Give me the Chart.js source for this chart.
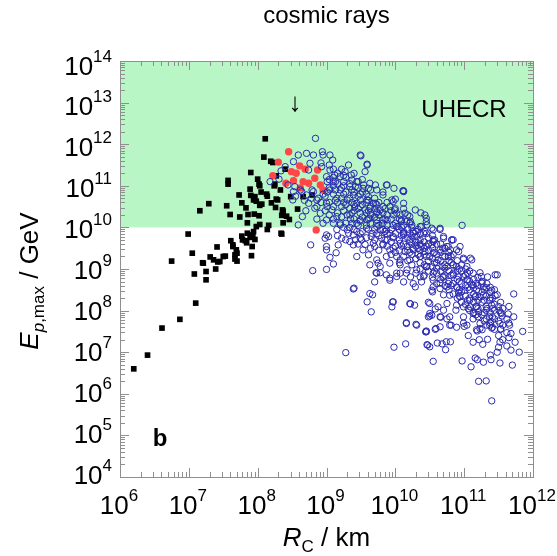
<!DOCTYPE html>
<html lang="en">
<head>
<meta charset="UTF-8">
<title>cosmic rays</title>
<script src="https://cdn.jsdelivr.net/npm/chart.js"></script>
<style>
  html, body { margin: 0; padding: 0; background: #fff; }
  canvas { display: block; }
</style>
</head>
<body>
<canvas id="chart" width="557" height="556"></canvas>
<script>
  // every pair is [log10(R_C / km), log10(E_p,max / GeV)]
  const squares = [
    [6.20,6.60],[6.40,6.93],[6.61,7.58],[6.87,7.79],[7.10,8.18],[7.08,8.88],[7.25,8.94],[7.25,8.74],
    [6.75,9.19],[7.05,9.38],[6.99,9.84],[7.20,9.15],[7.41,9.53],[7.39,9.00],[7.31,9.29],[7.42,9.17],
    [7.53,9.31],[7.61,9.68],[7.64,9.54],[7.67,9.24],[7.70,9.38],[7.91,9.32],[7.78,9.70],[7.93,9.82],
    [8.35,9.84],[7.84,9.63],[8.11,12.13],[8.09,11.69],[8.19,11.59],[7.90,11.32],[8.00,11.16],[7.57,11.13],
    [7.57,11.04],[8.02,11.04],[8.25,11.04],[7.89,10.92],[8.05,10.85],[7.73,10.78],[7.90,10.77],[7.96,10.74],
    [8.14,10.75],[7.29,10.57],[7.16,10.40],[7.77,10.59],[7.98,10.63],[8.03,10.53],[7.55,10.52],[7.83,10.47],
    [8.20,10.59],[8.29,10.66],[8.26,10.48],[7.60,10.31],[7.74,10.25],[7.86,10.31],[7.95,10.32],[8.02,10.28],
    [8.37,10.39],[8.35,10.29],[7.85,10.11],[8.03,10.07],[8.16,10.05],[8.14,9.95],[7.98,10.02],[7.77,9.79],
    [7.85,9.86],[7.94,9.90],[7.82,9.68],[7.89,9.76],[7.96,9.71],[8.34,9.86],[7.64,9.58],[7.69,9.46],
    [7.92,9.54],[7.36,9.22],[7.50,9.30],[7.67,9.34],[7.45,9.18],[7.70,9.19],[7.21,9.14],[8.22,11.56],
    [8.40,11.40],[8.27,11.24],[8.03,11.00],[8.24,11.00],[8.33,10.90],[8.13,10.80],[8.27,10.68],[7.94,10.66],
    [8.06,10.56],[8.48,10.74],[8.66,10.74],[8.79,10.78],[8.58,10.44],[8.36,10.42],[8.42,10.27],[8.46,10.19],
    [8.37,10.11]
  ];

  const redDots = [
    [8.45,11.82],[8.30,11.57],[8.22,11.24],[8.49,11.34],[8.61,11.48],[8.69,11.40],[8.56,11.30],[8.41,11.06],
    [8.52,11.12],[8.62,10.95],[8.66,11.10],[8.74,11.06],[8.83,11.18],[8.87,11.38],[8.91,11.02],[8.95,10.90],
    [8.85,9.94]
  ];

  const openCircles = [
    [8.84,12.14],[8.59,11.74],[8.94,11.82],[9.05,11.74],[8.40,11.46],[8.34,11.36],[8.52,11.58],[8.76,11.54],
    [8.18,11.10],[8.31,11.16],[8.44,11.02],[8.52,10.86],[8.51,10.66],[8.64,10.86],[8.79,10.90],[8.65,10.26],
    [8.59,10.06],[8.77,9.58],[8.74,10.58],[8.86,10.66],[8.86,10.50],[9.03,9.78],[9.00,9.54],[9.17,9.58],
    [9.20,10.06],[9.32,9.86],[9.42,9.70],[9.56,9.59],[8.71,11.78],[8.81,11.74],[8.95,11.74],[9.09,11.62],
    [9.49,11.74],[9.59,11.52],[9.56,11.34],[9.32,11.50],[9.27,11.34],[8.74,11.38],[8.93,11.46],[9.05,11.38],
    [9.00,11.22],[9.12,11.26],[9.20,11.22],[9.10,11.10],[9.25,11.10],[9.37,11.14],[9.46,11.10],[9.34,10.98],
    [9.42,10.98],[9.54,11.02],[9.61,10.94],[9.71,11.02],[9.88,11.02],[9.98,10.94],[10.12,10.86],[10.00,10.68],
    [8.62,10.90],[8.54,10.98],[8.71,10.78],[8.81,10.86],[8.83,10.46],[8.91,10.34],[9.00,10.58],[9.08,10.42],
    [9.15,10.26],[9.22,10.50],[9.30,10.66],[9.34,10.46],[9.44,10.58],[9.49,10.34],[9.59,10.66],[9.63,10.46],
    [9.71,10.58],[9.78,10.42],[9.92,10.50],[10.02,10.34],[9.88,10.18],[9.73,10.18],[9.59,10.18],[9.44,10.10],
    [9.20,10.10],[9.00,10.18],[9.30,9.94],[9.39,9.82],[9.49,9.74],[9.66,9.86],[9.78,9.94],[9.92,9.86],
    [10.04,10.02],[10.12,9.82],[9.88,9.70],[9.68,9.62],[9.00,9.82],[8.98,9.74],[9.22,9.74],[9.34,9.66],
    [9.50,11.72],[10.11,10.88],[10.37,10.35],[10.97,10.05],[10.45,10.22],
    [11.48,8.86],[11.34,8.81],[11.09,9.26],[11.23,8.91],[11.26,8.66],[11.48,8.38],[11.38,8.56],[10.94,9.54],
    [10.82,9.70],[10.80,9.46],[10.92,9.42],[10.99,9.23],[10.84,9.10],[10.72,9.02],[10.55,8.90],[10.36,8.81],
    [10.29,8.57],[10.65,8.66],[10.75,8.57],[10.92,8.81],[11.04,8.74],[11.11,8.62],[11.18,8.50],[11.28,8.38],
    [11.16,8.33],[10.92,8.42],[10.70,8.38],[10.55,8.57],[10.46,9.06],[10.43,9.42],[10.26,9.50],[10.17,9.54],
    [10.12,9.86],[10.26,9.86],[10.36,9.70],[10.55,9.66],[10.70,9.78],[10.84,9.70],[10.55,9.94],[10.65,9.95],
    [10.75,9.54],[10.55,9.38],[10.36,9.30],[10.07,9.22],[10.17,8.98],[10.07,8.90],[10.09,10.18],[10.22,10.14],
    [10.26,9.90],[10.38,10.02],[10.46,10.06],[10.43,9.90],[10.14,10.34],[10.12,10.58],
    [8.80,8.96],[9.00,8.99],[9.00,9.46],[9.05,9.28],[9.10,9.12],[9.14,9.39],[9.39,8.52],[9.59,8.21],
    [9.65,7.97],[9.67,8.38],[9.28,6.99],[9.96,8.21],[9.95,8.09],[9.98,7.12],[10.16,7.71],[10.30,7.67],
    [10.15,7.20],[10.22,8.16],[10.28,8.13],[10.45,7.51],[10.47,7.17],[10.48,8.20],[10.48,7.85],[9.75,9.14],
    [9.78,8.91],[9.72,8.91],[9.92,8.78],[10.02,8.90],[10.38,8.69],[10.22,8.81],
    [10.54,8.45],[10.50,7.87],[10.53,7.89],[10.44,7.49],[10.58,7.55],[10.46,7.18],[10.50,7.13],[10.61,7.22],
    [10.68,7.20],[10.74,7.25],[10.80,7.25],[10.73,7.06],[10.55,6.78],[10.97,6.79],[11.10,6.65],[11.16,6.86],
    [11.19,6.82],[11.28,6.76],[11.39,6.82],[11.38,6.93],[11.52,6.74],[11.70,6.69],[11.48,7.00],[11.50,7.12],
    [11.52,7.24],[11.34,7.31],[11.27,7.19],[11.22,7.30],[11.13,7.24],[11.06,7.40],[11.19,7.51],[11.26,7.54],
    [11.18,7.54],[11.62,7.47],[11.74,7.24],[11.66,7.65],[11.53,7.56],[11.40,7.58],[11.39,7.74],[11.37,7.65],
    [11.23,7.69],[11.13,7.80],[10.99,7.70],[11.00,7.62],[10.89,7.60],[10.81,7.65],[10.75,7.80],[10.66,7.84],
    [10.58,8.04],[10.70,8.01],[10.88,8.01],[10.99,8.09],[11.09,8.09],[11.21,7.97],[11.32,8.01],[11.40,8.13],
    [11.44,8.01],[11.51,8.00],[11.55,7.87],[11.64,7.92],[11.21,6.30],[11.32,6.31],[11.40,5.83],[11.45,8.36],
    [11.38,8.45],[9.40,8.54],[10.59,7.57],
    [9.36,11.26],[9.44,11.10],[9.53,10.94],[9.39,10.78],[9.49,10.66],[9.61,10.74],[9.68,10.58],[9.41,10.50],
    [9.56,10.42],[9.73,10.38],[9.82,10.50],[9.95,10.66],[9.99,10.42],[10.07,10.30],[9.82,10.18],[9.63,10.22],
    [9.49,10.18],[9.44,9.90],[9.58,9.98],[9.73,10.02],[9.87,9.94],[10.02,10.02],[10.16,10.14],[10.24,10.06],
    [10.36,10.02],[10.45,10.14],[10.53,9.98],[10.65,9.98],[10.12,9.86],[9.97,9.78],[9.80,9.74],[9.65,9.78],
    [9.51,9.70],[9.39,9.58],[9.53,9.46],[9.70,9.54],[9.82,9.58],[9.92,9.46],[10.07,9.62],[10.21,9.70],
    [10.31,9.78],[10.41,9.86],[10.55,9.70],[10.70,9.74],[10.82,9.70],[10.77,9.54],[10.65,9.46],[10.53,9.58],
    [10.38,9.54],[10.26,9.46],[10.14,9.42],[10.02,9.30],[9.87,9.30],[9.73,9.22],[9.61,9.34],[9.44,9.30],
    [9.63,9.10],[9.78,9.06],[9.92,9.14],[10.07,9.10],[10.21,9.22],[10.36,9.30],[10.50,9.30],[10.62,9.22],
    [10.77,9.30],[10.89,9.46],[10.99,9.26],[11.11,9.22],[11.04,9.06],[10.89,9.06],[10.75,9.06],[10.60,9.02],
    [10.45,9.06],[10.31,8.98],[10.16,8.90],[10.02,8.82],[9.87,8.86],[9.73,8.90],[9.70,8.69],[9.92,8.73],
    [10.12,8.69],[10.26,8.65],[10.41,8.82],[10.55,8.73],[10.70,8.82],[10.84,8.86],[10.99,8.82],[11.13,8.90],
    [11.25,8.82],[11.33,8.65],[11.45,8.86],[11.40,8.49],[11.28,8.57],[11.13,8.61],[11.01,8.49],[10.89,8.57],
    [10.77,8.65],[10.65,8.53],[10.53,8.49],[10.79,8.37],[10.94,8.33],[11.08,8.25],[11.23,8.33],[11.37,8.25],
    [11.33,8.05],[11.18,8.09],[11.06,8.05],[10.89,8.13],[10.75,8.17],[10.62,8.09],[10.50,8.17],[10.21,8.17],
    [9.97,8.21],[9.63,8.41],[10.50,7.93],[10.65,7.85],[10.79,7.85],[10.99,7.85],[11.13,7.93],[11.37,7.85],
    [11.54,7.93],[11.52,7.69],[11.33,7.65],[11.23,7.57],[11.04,7.65],[10.79,7.65],[10.65,7.61],[10.45,7.49],
    [10.31,7.65],[10.16,7.69],
    [9.59,11.50],[9.87,11.02],[10.12,10.88],[9.73,10.90],[9.63,11.06],[9.82,10.78],[9.97,10.62],[10.21,10.26],
    [10.43,10.30],[10.29,10.42],
    [8.95,10.80],[9.05,10.90],[9.15,10.70],[9.20,10.90],[9.10,11.00],[8.55,10.75],[8.68,10.65],[9.25,10.80],
    [9.30,10.30],[9.40,10.40],[9.35,10.20],[9.25,10.00],[9.10,10.20],[8.95,10.10],[9.15,9.95]
  ];

  // the crowded core of the open-circle cloud
  const openCirclesCore = [
    [8.70,10.40],[8.78,10.70],[8.86,10.20],[8.92,10.60],[8.92,11.55],
    [8.98,10.75],[8.98,10.40],[9.04,10.60],[9.04,10.95],[9.04,11.15],[9.04,10.30],
    [9.04,11.50],[9.10,10.80],[9.10,10.50],[9.10,11.20],[9.10,11.40],[9.10,10.10],[9.16,11.05],[9.16,10.60],
    [9.16,10.35],[9.16,11.30],[9.16,9.80],[9.22,10.70],[9.22,10.95],[9.22,10.25],[9.22,11.40],[9.28,10.55],
    [9.28,10.85],[9.28,11.20],[9.28,10.10],[9.28,9.70],[9.34,10.70],[9.34,11.05],[9.34,10.30],[9.34,10.00],
    [9.40,10.55],[9.40,10.85],[9.40,10.20],[9.40,11.30],[9.40,9.95],[9.46,10.45],[9.46,10.75],[9.46,10.95],
    [9.46,10.05],[9.46,9.60],[9.52,10.55],[9.52,10.25],[9.52,10.85],[9.52,9.90],[9.52,11.15],[9.58,10.35],
    [9.58,10.60],[9.58,10.80],[9.58,10.05],[9.58,9.75],[9.64,10.50],[9.64,10.10],[9.64,10.30],[9.64,10.90],
    [9.64,9.50],[9.70,10.25],[9.70,10.45],[9.70,9.95],[9.70,10.70],[9.70,9.70],[9.76,10.05],[9.76,10.30],
    [9.76,10.60],[9.76,9.80],[9.76,9.45],[9.82,10.35],[9.82,9.95],[9.82,10.10],[9.82,9.60],[9.82,10.85],
    [9.88,10.05],[9.88,10.30],[9.88,9.55],[9.88,9.85],[9.88,10.60],[9.94,9.95],[9.94,10.20],[9.94,9.65],
    [9.94,10.40],[9.94,9.35],[10.00,9.85],[10.00,10.10],[10.00,9.55],[10.00,9.40],[10.00,10.45],[10.06,9.95],
    [10.06,9.70],[10.06,10.20],[10.06,9.45],[10.06,9.15],[10.12,9.60],[10.12,9.90],[10.12,10.05],[10.12,9.30],
    [10.12,10.45],[10.18,9.75],[10.18,9.45],[10.18,9.95],[10.18,9.20],[10.18,10.30],[10.24,9.60],[10.24,9.80],
    [10.24,9.35],[10.24,10.00],[10.24,9.10],[10.30,9.55],[10.30,9.90],[10.30,9.25],[10.30,9.65],[10.30,8.90],
    [10.36,9.45],[10.36,9.60],[10.36,9.15],[10.36,9.85],[10.36,9.00],[10.42,9.35],[10.42,9.65],[10.42,9.10],
    [10.42,9.50],[10.42,8.85],[10.48,9.45],[10.48,9.20],[10.48,9.75],[10.48,8.95],[10.48,9.60],[10.54,9.25],
    [10.54,9.50],[10.54,9.05],[10.54,8.80],[10.54,9.80],[10.60,9.35],[10.60,9.15],[10.60,9.60],[10.60,8.90],
    [10.60,8.65],[10.66,9.20],[10.66,9.40],[10.66,8.95],[10.66,9.60],[10.66,8.75],[10.72,9.10],[10.72,9.30],
    [10.72,8.85],[10.72,9.50],[10.72,8.60],[10.78,8.95],[10.78,9.20],[10.78,8.70],[10.78,9.40],[10.78,8.50],
    [10.84,8.90],[10.84,9.10],[10.84,8.65],[10.84,9.35],[10.84,8.40],[10.90,8.75],[10.90,8.95],[10.90,9.20],
    [10.90,8.55],[10.90,8.30],[10.96,8.65],[10.96,8.95],[10.96,9.10],[10.96,8.45],[10.96,8.20],[11.02,8.60],
    [11.02,8.85],[11.02,8.35],[11.02,9.00],[11.02,8.15],[11.08,8.50],[11.08,8.70],[11.08,8.95],[11.08,8.30],
    [11.08,8.00],[11.14,8.40],[11.14,8.75],[11.14,8.20],[11.14,8.55],[11.14,7.95],[11.20,8.25],[11.20,8.60],
    [11.20,8.05],[11.20,8.80],[11.20,7.85],[11.26,8.20],[11.26,8.45],[11.26,7.90],[11.26,8.70],[11.32,8.10],
    [11.32,8.35],[11.32,7.80],[11.32,8.55],[11.38,7.95],[11.38,8.30],[11.38,7.70],[11.44,7.80],[11.44,8.15],
    [11.44,8.50],[11.44,7.55],[11.50,7.75],[11.50,8.10],[11.50,7.40],[11.56,7.65],[11.56,8.05],[11.56,7.30],
    [11.62,7.80],[11.62,7.15],[11.68,7.45],[11.68,7.05],[11.85,7.50],[11.80,7.00],
    [8.88,10.70],[9.01,10.85],[9.01,11.10],[9.01,10.50],[9.13,10.90],[9.13,10.65],
    [9.13,11.10],[9.25,10.60],[9.25,10.40],[9.25,11.00],[9.25,11.25],[9.37,10.60],[9.37,10.90],[9.37,10.35],
    [9.37,10.10],[9.49,10.50],[9.49,10.80],[9.49,10.15],[9.49,9.85],[9.61,10.40],[9.61,10.65],[9.61,10.20],
    [9.61,9.95],[9.73,10.35],[9.73,10.55],[9.73,10.10],[9.73,9.85],[9.85,10.20],[9.85,10.45],[9.85,9.90],
    [9.85,9.70],[9.97,10.05],[9.97,10.30],[9.97,9.75],[9.97,9.50],[10.09,10.00],[10.09,9.80],[10.09,9.55],
    [10.09,10.15],[10.21,9.85],[10.21,9.65],[10.21,9.40],[10.21,10.10],[10.33,9.70],[10.33,9.50],[10.33,9.35],
    [10.33,9.95],[10.45,9.55],[10.45,9.30],[10.45,9.05],[10.45,9.85],[10.57,9.40],[10.57,9.15],[10.57,8.95],
    [10.57,9.70],[10.69,9.30],[10.69,9.05],[10.69,8.80],[10.69,9.50],[10.81,9.15],[10.81,8.85],[10.81,8.60],
    [10.81,9.30],[10.93,9.00],[10.93,8.70],[10.93,8.50],[10.93,8.35],[11.05,8.75],[11.05,8.55],[11.05,8.25],
    [11.05,8.90],[11.17,8.65],[11.17,8.35],[11.17,8.10],[11.17,7.90],[11.29,8.50],[11.29,8.25],[11.29,7.95],
    [11.29,7.75],[11.41,8.30],[11.41,8.05],[11.41,7.85],[11.41,7.60],[11.53,8.20],[11.53,7.95],[11.53,7.55],
    [11.65,8.10],[11.65,7.70],[11.65,7.35],[11.72,8.40],[11.72,7.85]
  ];

  const xDecades = [6, 7, 8, 9, 10, 11, 12];
  const yDecades = [4, 5, 6, 7, 8, 9, 10, 11, 12, 13, 14];
  const uhecrBand = [1e10, 1e14];
  const arrowAt = [3.5e8, 1.2e13];

  const FONT = '"Liberation Sans", Arial, sans-serif';
  const toPoints = arr => arr.map(([a, b]) => ({ x: Math.pow(10, a), y: Math.pow(10, b) }));

  function power(ctx, exp, x, y, align) {
    ctx.font = '26px ' + FONT;
    const wb = ctx.measureText('10').width;
    ctx.font = '17px ' + FONT;
    const we = ctx.measureText(String(exp)).width;
    const x0 = align === 'right' ? x - wb - we : x - (wb + we) / 2;
    ctx.textAlign = 'left';
    ctx.textBaseline = 'alphabetic';
    ctx.font = '26px ' + FONT;
    ctx.fillText('10', x0, y);
    ctx.font = '17px ' + FONT;
    ctx.fillText(String(exp), x0 + wb, y - 13);
  }

  // draws pieces [text, font, dy] one after another, centred on x
  function pieces(ctx, parts, x, y) {
    let w = 0;
    parts.forEach(p => { ctx.font = p[1]; w += ctx.measureText(p[0]).width; });
    let cx = x - w / 2;
    ctx.textAlign = 'left';
    ctx.textBaseline = 'alphabetic';
    parts.forEach(p => {
      ctx.font = p[1];
      ctx.fillText(p[0], cx, y + p[2]);
      cx += ctx.measureText(p[0]).width;
    });
  }

  const frame = {
    id: 'frame',
    beforeDatasetsDraw(chart) {
      const { ctx, chartArea: a, scales: { y } } = chart;
      const top = y.getPixelForValue(uhecrBand[1]);
      const bot = y.getPixelForValue(uhecrBand[0]);
      ctx.save();
      ctx.fillStyle = '#b9f6c5';
      ctx.fillRect(a.left, top, a.right - a.left, bot - top);
      ctx.restore();
    },
    afterDatasetsDraw(chart) {
      const { ctx, chartArea: a, scales: { x, y } } = chart;
      ctx.save();
      ctx.strokeStyle = '#8f8f8f';
      ctx.lineWidth = 1;
      ctx.beginPath();
      for (let d = xDecades[0]; d < xDecades[xDecades.length - 1]; d++) {
        for (let m = 1; m < 10; m++) {
          const px = Math.round(x.getPixelForValue(m * Math.pow(10, d))) + 0.5;
          const len = m === 1 ? 9 : 5;
          ctx.moveTo(px, a.bottom); ctx.lineTo(px, a.bottom - len);
          ctx.moveTo(px, a.top); ctx.lineTo(px, a.top + len);
        }
      }
      for (let d = yDecades[0]; d < yDecades[yDecades.length - 1]; d++) {
        for (let m = 1; m < 10; m++) {
          const py = Math.round(y.getPixelForValue(m * Math.pow(10, d))) + 0.5;
          const len = m === 1 ? 9 : 5;
          ctx.moveTo(a.left, py); ctx.lineTo(a.left + len, py);
          ctx.moveTo(a.right, py); ctx.lineTo(a.right - len, py);
        }
      }
      ctx.stroke();
      ctx.strokeRect(Math.round(a.left) + 0.5, Math.round(a.top) + 0.5,
        Math.round(a.right - a.left), Math.round(a.bottom - a.top));
      ctx.restore();
    },
    afterDraw(chart) {
      const { ctx, chartArea: a, scales: { x, y } } = chart;
      ctx.save();
      ctx.fillStyle = '#000';
      xDecades.forEach(d => power(ctx, d, x.getPixelForValue(Math.pow(10, d)) - 1, 514));
      yDecades.forEach(d => {
        const py = y.getPixelForValue(Math.pow(10, d));
        power(ctx, d, 112, py + 13.5 - (14 - d) * 0.7, 'right');
      });

      ctx.font = '24px ' + FONT;
      ctx.textAlign = 'center';
      ctx.fillText('cosmic rays', (a.left + a.right) / 2, 23);

      pieces(ctx, [
        ['R', 'italic 26px ' + FONT, 0],
        ['C', '17px ' + FONT, 6],
        [' / km', '26px ' + FONT, 0]
      ], (a.left + a.right) / 2, 546);

      ctx.save();
      ctx.translate(38, 281);
      ctx.rotate(-Math.PI / 2);
      pieces(ctx, [
        ['E', 'italic 26px ' + FONT, 0],
        ['p', 'italic 17px ' + FONT, 6],
        [',max', '17px ' + FONT, 6],
        [' / GeV', '26px ' + FONT, 0]
      ], 0, 0);
      ctx.restore();

      ctx.font = '24px ' + FONT;
      ctx.textAlign = 'center';
      ctx.fillText('UHECR', 464, 117);
      ctx.font = '26px ' + FONT;
      ctx.fillText('\u2193', x.getPixelForValue(arrowAt[0]), y.getPixelForValue(arrowAt[1]) + 12);
      ctx.font = 'bold 24px ' + FONT;
      ctx.fillText('b', 160, 446);
      ctx.restore();
    }
  };

  new Chart(document.getElementById('chart'), {
    type: 'scatter',
    data: {
      datasets: [
        {
          data: toPoints(openCircles.concat(openCirclesCore)), order: 0,
          pointStyle: 'circle', pointRadius: 3.2, pointBorderWidth: 1,
          pointBackgroundColor: 'rgba(0,0,0,0)', pointBorderColor: '#2a2aae'
        },
        {
          data: toPoints(redDots), order: 1,
          pointStyle: 'circle', pointRadius: 3.7, pointBorderWidth: 0,
          pointBackgroundColor: '#ff4747'
        },
        {
          data: toPoints(squares), order: 2,
          pointStyle: 'rect', pointRadius: 4, pointBorderWidth: 0,
          pointBackgroundColor: '#000'
        }
      ]
    },
    options: {
      responsive: false,
      animation: false,
      events: [],
      layout: { padding: { left: 120, right: 24, top: 61, bottom: 79 } },
      plugins: { legend: { display: false }, tooltip: { enabled: false } },
      scales: {
        x: { type: 'logarithmic', min: 1e6, max: 1e12, display: false },
        y: { type: 'logarithmic', min: 1e4, max: 1e14, display: false }
      }
    },
    plugins: [frame]
  });
</script>
</body>
</html>
